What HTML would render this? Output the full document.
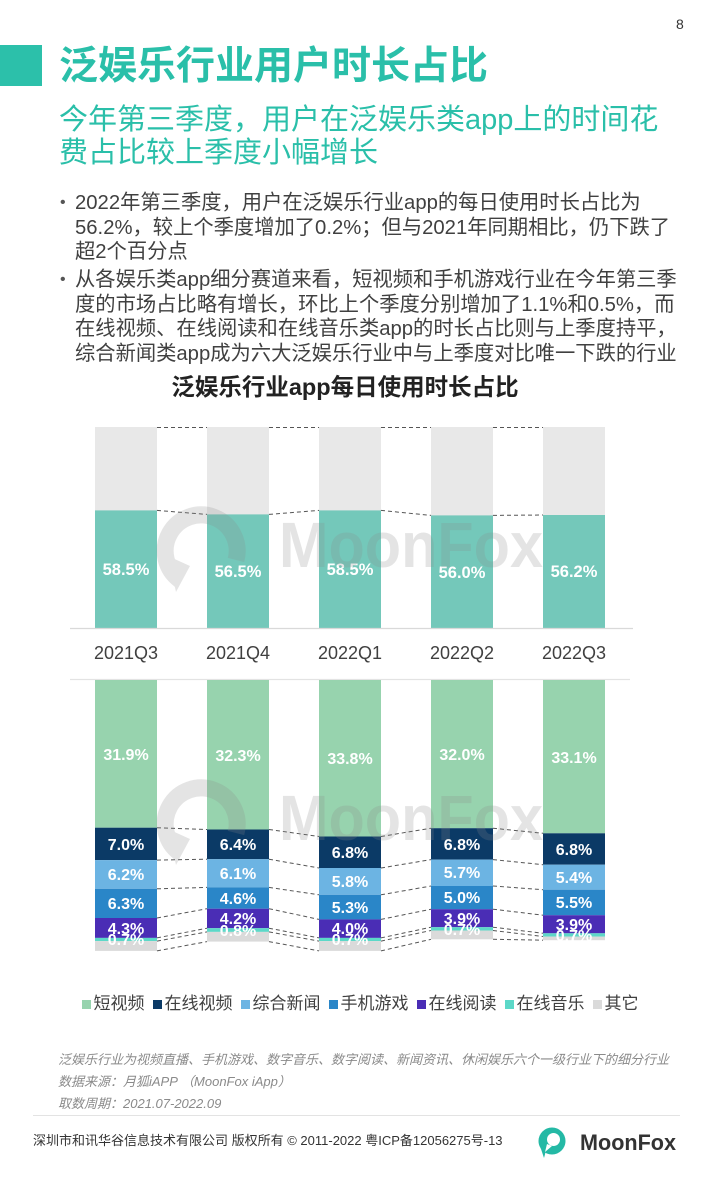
<!DOCTYPE html>
<html><head><meta charset="utf-8">
<style>
*{margin:0;padding:0;box-sizing:border-box}
body{width:710px;height:1183px;background:#fff;position:relative;overflow:hidden;font-family:"Liberation Sans","Noto Sans CJK SC",sans-serif;color:#404040}
.abs{position:absolute;white-space:nowrap}
.title{left:59px;top:47px;font-size:39px;line-height:40px;font-weight:bold;color:#2ABFA9;font-family:"Liberation Sans","Noto Sans CJK SC",sans-serif}
.sub{left:59px;top:104px;font-size:29px;line-height:33px;color:#2ABFA9}
.bul{left:75px;font-size:20.3px;line-height:24.6px;color:#404040}
.dot{position:absolute;left:-15px;font-size:16px;color:#555}
.ctitle{left:0;width:690px;text-align:center;top:373px;font-size:23.5px;line-height:28px;font-weight:bold;color:#222}
.legend{left:0;width:720px;top:992px;display:flex;justify-content:center;align-items:center;font-size:17px;line-height:24px;color:#404040}
.legend span.m{display:inline-block;width:9px;height:9px;margin-right:3px}
.legend .it{display:flex;align-items:center;margin:0 4px}
.fn{left:58px;font-size:13px;line-height:18px;font-style:italic;color:#8a8a8a}
</style></head><body>

<div class="abs" style="left:0;top:45px;width:42px;height:41px;background:#2CC0AA"></div>
<div class="abs" style="left:676px;top:16px;font-size:14px;color:#333">8</div>
<div class="abs title">泛娱乐行业用户时长占比</div>
<div class="abs sub">今年第三季度，用户在泛娱乐类app上的时间花<br>费占比较上季度小幅增长</div>

<div class="abs bul" style="top:191px"><span class="dot">•</span>2022年第三季度，用户在泛娱乐行业app的每日使用时长占比为<br>56.2%，较上个季度增加了0.2%；但与2021年同期相比，仍下跌了<br>超2个百分点</div>
<div class="abs bul" style="top:268px"><span class="dot">•</span>从各娱乐类app细分赛道来看，短视频和手机游戏行业在今年第三季<br>度的市场占比略有增长，环比上个季度分别增加了1.1%和0.5%，而<br>在线视频、在线阅读和在线音乐类app的时长占比则与上季度持平，<br>综合新闻类app成为六大泛娱乐行业中与上季度对比唯一下跌的行业</div>

<div class="abs ctitle">泛娱乐行业app每日使用时长占比</div>

<svg class="abs" style="left:0;top:0" width="710" height="1183" xmlns="http://www.w3.org/2000/svg">
<!-- top chart -->
<g>
<rect x="95" y="427" width="62" height="201" fill="#E8E8E8"/>
<rect x="207" y="427" width="62" height="201" fill="#E8E8E8"/>
<rect x="319" y="427" width="62" height="201" fill="#E8E8E8"/>
<rect x="431" y="427" width="62" height="201" fill="#E8E8E8"/>
<rect x="543" y="427" width="62" height="201" fill="#E8E8E8"/>
<rect x="95" y="510.4" width="62" height="117.6" fill="#74C8BA"/>
<rect x="207" y="514.4" width="62" height="113.6" fill="#74C8BA"/>
<rect x="319" y="510.4" width="62" height="117.6" fill="#74C8BA"/>
<rect x="431" y="515.4" width="62" height="112.6" fill="#74C8BA"/>
<rect x="543" y="515" width="62" height="113" fill="#74C8BA"/>
<g stroke="#555" stroke-width="1" stroke-dasharray="4 3" fill="none">
<line x1="157" y1="427.5" x2="207" y2="427.5"/><line x1="269" y1="427.5" x2="319" y2="427.5"/><line x1="381" y1="427.5" x2="431" y2="427.5"/><line x1="493" y1="427.5" x2="543" y2="427.5"/>
<line x1="157" y1="510.4" x2="207" y2="514.4"/><line x1="269" y1="514.4" x2="319" y2="510.4"/><line x1="381" y1="510.4" x2="431" y2="515.4"/><line x1="493" y1="515.4" x2="543" y2="515"/>
</g>
<line x1="70" y1="628.5" x2="633" y2="628.5" stroke="#D9D9D9" stroke-width="1.2"/>
<g font-family="Liberation Sans, sans-serif" font-weight="bold" font-size="16.5" fill="#fff" text-anchor="middle">
<text x="126" y="575">58.5%</text><text x="238" y="577">56.5%</text><text x="350" y="575">58.5%</text><text x="462" y="578">56.0%</text><text x="574" y="577">56.2%</text>
</g>
<g font-family="Liberation Sans, sans-serif" font-size="18" fill="#404040" text-anchor="middle">
<text x="126" y="659">2021Q3</text><text x="238" y="659">2021Q4</text><text x="350" y="659">2022Q1</text><text x="462" y="659">2022Q2</text><text x="574" y="659">2022Q3</text>
</g>
</g>

<!-- bottom chart -->
<line x1="70" y1="679.5" x2="630" y2="679.5" stroke="#E3E3E3" stroke-width="1.2"/>
<g>
<rect x="95" y="680" width="62" height="147.7" fill="#97D3AE"/>
<rect x="95" y="827.7" width="62" height="32.4" fill="#0B3A66"/>
<rect x="95" y="860.1" width="62" height="28.7" fill="#6CB4E3"/>
<rect x="95" y="888.8" width="62" height="29.2" fill="#2A86C8"/>
<rect x="95" y="918" width="62" height="19.9" fill="#4A2DB5"/>
<rect x="95" y="937.9" width="62" height="3.2" fill="#5CD8C8"/>
<rect x="95" y="941.1" width="62" height="9.8" fill="#DADADA"/>
<rect x="207" y="680" width="62" height="149.5" fill="#97D3AE"/>
<rect x="207" y="829.5" width="62" height="29.7" fill="#0B3A66"/>
<rect x="207" y="859.2" width="62" height="28.2" fill="#6CB4E3"/>
<rect x="207" y="887.4" width="62" height="21.3" fill="#2A86C8"/>
<rect x="207" y="908.7" width="62" height="19.5" fill="#4A2DB5"/>
<rect x="207" y="928.2" width="62" height="3.7" fill="#5CD8C8"/>
<rect x="207" y="931.9" width="62" height="9.7" fill="#DADADA"/>
<rect x="319" y="680" width="62" height="156.5" fill="#97D3AE"/>
<rect x="319" y="836.5" width="62" height="31.5" fill="#0B3A66"/>
<rect x="319" y="868" width="62" height="26.8" fill="#6CB4E3"/>
<rect x="319" y="894.8" width="62" height="24.6" fill="#2A86C8"/>
<rect x="319" y="919.4" width="62" height="18.5" fill="#4A2DB5"/>
<rect x="319" y="937.9" width="62" height="3.2" fill="#5CD8C8"/>
<rect x="319" y="941.1" width="62" height="9.8" fill="#DADADA"/>
<rect x="431" y="680" width="62" height="148.2" fill="#97D3AE"/>
<rect x="431" y="828.2" width="62" height="31.4" fill="#0B3A66"/>
<rect x="431" y="859.6" width="62" height="26.4" fill="#6CB4E3"/>
<rect x="431" y="886" width="62" height="23.2" fill="#2A86C8"/>
<rect x="431" y="909.2" width="62" height="18" fill="#4A2DB5"/>
<rect x="431" y="927.2" width="62" height="3.3" fill="#5CD8C8"/>
<rect x="431" y="930.5" width="62" height="8.8" fill="#DADADA"/>
<rect x="543" y="680" width="62" height="153.3" fill="#97D3AE"/>
<rect x="543" y="833.3" width="62" height="31.4" fill="#0B3A66"/>
<rect x="543" y="864.7" width="62" height="25" fill="#6CB4E3"/>
<rect x="543" y="889.7" width="62" height="25.5" fill="#2A86C8"/>
<rect x="543" y="915.2" width="62" height="18.1" fill="#4A2DB5"/>
<rect x="543" y="933.3" width="62" height="3.2" fill="#5CD8C8"/>
<rect x="543" y="936.5" width="62" height="3.7" fill="#DADADA"/>
</g>
<g stroke="#555" stroke-width="1" stroke-dasharray="4 3" fill="none">
<line x1="157" y1="827.7" x2="207" y2="829.5"/><line x1="157" y1="860.1" x2="207" y2="859.2"/><line x1="157" y1="888.8" x2="207" y2="887.4"/><line x1="157" y1="918" x2="207" y2="908.7"/><line x1="157" y1="937.9" x2="207" y2="928.2"/><line x1="157" y1="941.1" x2="207" y2="931.9"/><line x1="157" y1="950.9" x2="207" y2="941.6"/>
<line x1="269" y1="829.5" x2="319" y2="836.5"/><line x1="269" y1="859.2" x2="319" y2="868"/><line x1="269" y1="887.4" x2="319" y2="894.8"/><line x1="269" y1="908.7" x2="319" y2="919.4"/><line x1="269" y1="928.2" x2="319" y2="937.9"/><line x1="269" y1="931.9" x2="319" y2="941.1"/><line x1="269" y1="941.6" x2="319" y2="950.9"/>
<line x1="381" y1="836.5" x2="431" y2="828.2"/><line x1="381" y1="868" x2="431" y2="859.6"/><line x1="381" y1="894.8" x2="431" y2="886"/><line x1="381" y1="919.4" x2="431" y2="909.2"/><line x1="381" y1="937.9" x2="431" y2="927.2"/><line x1="381" y1="941.1" x2="431" y2="930.5"/><line x1="381" y1="950.9" x2="431" y2="939.3"/>
<line x1="493" y1="828.2" x2="543" y2="833.3"/><line x1="493" y1="859.6" x2="543" y2="864.7"/><line x1="493" y1="886" x2="543" y2="889.7"/><line x1="493" y1="909.2" x2="543" y2="915.2"/><line x1="493" y1="927.2" x2="543" y2="933.3"/><line x1="493" y1="930.5" x2="543" y2="936.5"/><line x1="493" y1="939.3" x2="543" y2="940.2"/>
</g>
<g font-family="Liberation Sans, sans-serif" font-weight="bold" font-size="16" fill="#fff" text-anchor="middle">
<text x="126" y="760">31.9%</text><text x="126" y="850">7.0%</text><text x="126" y="880">6.2%</text><text x="126" y="909">6.3%</text><text x="126" y="934">4.3%</text><text x="126" y="945">0.7%</text>
<text x="238" y="761">32.3%</text><text x="238" y="850">6.4%</text><text x="238" y="879">6.1%</text><text x="238" y="904">4.6%</text><text x="238" y="924">4.2%</text><text x="238" y="936">0.8%</text>
<text x="350" y="764">33.8%</text><text x="350" y="858">6.8%</text><text x="350" y="887">5.8%</text><text x="350" y="913">5.3%</text><text x="350" y="934">4.0%</text><text x="350" y="945">0.7%</text>
<text x="462" y="760">32.0%</text><text x="462" y="850">6.8%</text><text x="462" y="878">5.7%</text><text x="462" y="903">5.0%</text><text x="462" y="924">3.9%</text><text x="462" y="935">0.7%</text>
<text x="574" y="763">33.1%</text><text x="574" y="855">6.8%</text><text x="574" y="883">5.4%</text><text x="574" y="908">5.5%</text><text x="574" y="930">3.9%</text><text x="574" y="941">0.7%</text>
</g>

<g fill="#8a8a8a" opacity="0.22">
<path d="M180 580 A36 36 0 1 1 236 560" fill="none" stroke="#8a8a8a" stroke-width="17"/>
<path d="M168 556 L190 566 L176 592 Z"/>
<text x="279" y="567" font-family="Liberation Sans, sans-serif" font-weight="bold" font-size="64" textLength="264" lengthAdjust="spacingAndGlyphs">MoonFox</text>
<path d="M180 853 A36 36 0 1 1 236 833" fill="none" stroke="#8a8a8a" stroke-width="17"/>
<path d="M168 829 L190 839 L176 865 Z"/>
<text x="279" y="840" font-family="Liberation Sans, sans-serif" font-weight="bold" font-size="64" textLength="264" lengthAdjust="spacingAndGlyphs">MoonFox</text>
</g>

<line x1="33" y1="1115.5" x2="680" y2="1115.5" stroke="#E3E3E3" stroke-width="1"/>
<circle cx="552" cy="1141" r="13.5" fill="#24B9A5"/>
<circle cx="553.5" cy="1139.5" r="6.5" fill="#fff"/>
<path d="M540 1146 L548 1143 L544 1158 Z" fill="#24B9A5"/>
<path d="M547 1144 L552 1146 L545 1152 Z" fill="#fff"/>
<text x="580" y="1150" font-family="Liberation Sans, sans-serif" font-weight="bold" font-size="22" fill="#333" textLength="96" lengthAdjust="spacingAndGlyphs">MoonFox</text>
</svg>

<div class="abs legend">
<div class="it"><span class="m" style="background:#97D3AE"></span>短视频</div>
<div class="it"><span class="m" style="background:#0B3A66"></span>在线视频</div>
<div class="it"><span class="m" style="background:#6CB4E3"></span>综合新闻</div>
<div class="it"><span class="m" style="background:#2A86C8"></span>手机游戏</div>
<div class="it"><span class="m" style="background:#4A2DB5"></span>在线阅读</div>
<div class="it"><span class="m" style="background:#5CD8C8"></span>在线音乐</div>
<div class="it"><span class="m" style="background:#DADADA"></span>其它</div>
</div>

<div class="abs fn" style="top:1051px">泛娱乐行业为视频直播、手机游戏、数字音乐、数字阅读、新闻资讯、休闲娱乐六个一级行业下的细分行业</div>
<div class="abs fn" style="top:1073px">数据来源：月狐iAPP （MoonFox iApp）</div>
<div class="abs fn" style="top:1095px">取数周期：2021.07-2022.09</div>

<div class="abs" style="left:33px;top:1132px;font-size:13px;line-height:18px;color:#333">深圳市和讯华谷信息技术有限公司 版权所有 © 2011-2022 粤ICP备12056275号-13</div>
</body></html>
